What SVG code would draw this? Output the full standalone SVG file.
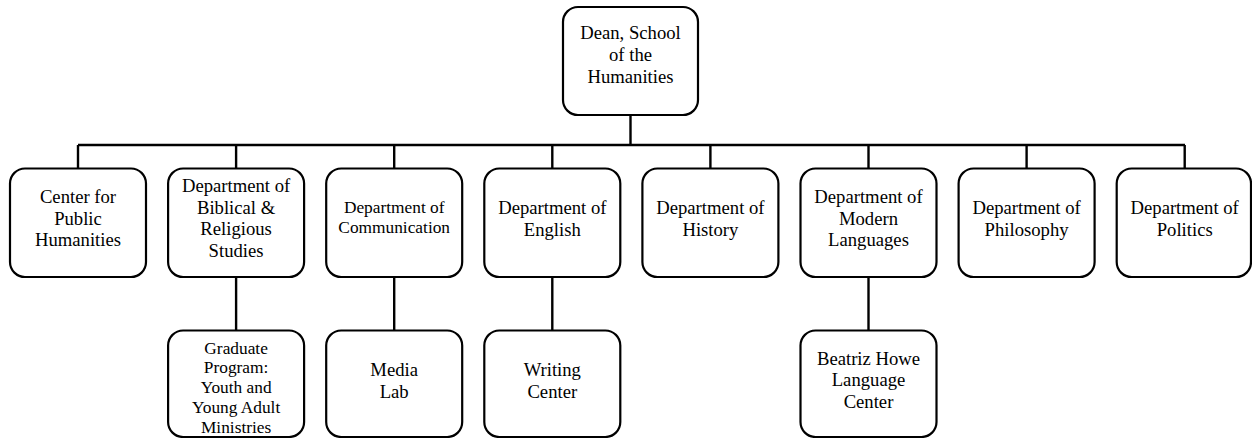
<svg xmlns="http://www.w3.org/2000/svg" width="1252" height="438" viewBox="0 0 1252 438">
<style>
.box{fill:#fff;stroke:#000;stroke-width:2.2}
text{font-family:'Liberation Serif',Tinos,'Times New Roman',Times,'DejaVu Serif',serif;font-size:18.67px;fill:#000;text-anchor:middle}
.s{font-size:17.33px}
.c{stroke:#000;stroke-width:2.4;fill:none}
</style>
<g id="connectors">
<line class="c" x1="630.5" y1="115" x2="630.5" y2="145"/>
<line class="c" x1="78" y1="145" x2="1185" y2="145"/>
<line class="c" x1="78" y1="145" x2="78" y2="168.5"/>
<line class="c" x1="236.1" y1="145" x2="236.1" y2="168.5"/>
<line class="c" x1="394.2" y1="145" x2="394.2" y2="168.5"/>
<line class="c" x1="552.3" y1="145" x2="552.3" y2="168.5"/>
<line class="c" x1="710.4" y1="145" x2="710.4" y2="168.5"/>
<line class="c" x1="868.5" y1="145" x2="868.5" y2="168.5"/>
<line class="c" x1="1026.6" y1="145" x2="1026.6" y2="168.5"/>
<line class="c" x1="1184.7" y1="145" x2="1184.7" y2="168.5"/>
<line class="c" x1="236.1" y1="277" x2="236.1" y2="330.5"/>
<line class="c" x1="394.2" y1="277" x2="394.2" y2="330.5"/>
<line class="c" x1="552.3" y1="277" x2="552.3" y2="330.5"/>
<line class="c" x1="868.5" y1="277" x2="868.5" y2="330.5"/>
</g>
<g id="dean">
<rect class="box" x="563" y="7" width="135" height="108" rx="15"/>
<text x="630.5" y="39" font-family="'Liberation Serif', serif">Dean, School</text>
<text x="630.5" y="61">of the</text>
<text x="630.5" y="83">Humanities</text>
</g>
<g id="center-public-humanities">
<rect class="box" x="10" y="168.5" width="136" height="108.5" rx="15"/>
<text x="78" y="203">Center for</text>
<text x="78" y="224.5">Public</text>
<text x="78" y="246">Humanities</text>
</g>
<g id="dept-biblical">
<rect class="box" x="168.1" y="168.5" width="136" height="108.5" rx="15"/>
<text x="236.1" y="192">Department of</text>
<text x="236.1" y="213.5">Biblical &amp;</text>
<text x="236.1" y="235">Religious</text>
<text x="236.1" y="256.5">Studies</text>
</g>
<g id="dept-communication">
<rect class="box" x="326.2" y="168.5" width="136" height="108.5" rx="15"/>
<text class="s" x="394.2" y="212.5">Department of</text>
<text class="s" x="394.2" y="232.5">Communication</text>
</g>
<g id="dept-english">
<rect class="box" x="484.3" y="168.5" width="136" height="108.5" rx="15"/>
<text x="552.3" y="214">Department of</text>
<text x="552.3" y="235.5">English</text>
</g>
<g id="dept-history">
<rect class="box" x="642.4" y="168.5" width="136" height="108.5" rx="15"/>
<text x="710.4" y="214">Department of</text>
<text x="710.4" y="235.5">History</text>
</g>
<g id="dept-modern-languages">
<rect class="box" x="800.5" y="168.5" width="136" height="108.5" rx="15"/>
<text x="868.5" y="203">Department of</text>
<text x="868.5" y="224.5">Modern</text>
<text x="868.5" y="246">Languages</text>
</g>
<g id="dept-philosophy">
<rect class="box" x="958.6" y="168.5" width="136" height="108.5" rx="15"/>
<text x="1026.6" y="214">Department of</text>
<text x="1026.6" y="235.5">Philosophy</text>
</g>
<g id="dept-politics">
<rect class="box" x="1116.7" y="168.5" width="134.3" height="108.5" rx="15"/>
<text x="1184.7" y="214">Department of</text>
<text x="1184.7" y="235.5">Politics</text>
</g>
<g id="graduate-program">
<rect class="box" x="168.1" y="330.5" width="136" height="106.5" rx="15"/>
<text class="s" x="236.1" y="353.5">Graduate</text>
<text class="s" x="236.1" y="373.3">Program:</text>
<text class="s" x="236.1" y="393.1">Youth and</text>
<text class="s" x="236.1" y="412.9">Young Adult</text>
<text class="s" x="236.1" y="432.7">Ministries</text>
</g>
<g id="media-lab">
<rect class="box" x="326.2" y="330.5" width="136" height="106.5" rx="15"/>
<text x="394.2" y="376">Media</text>
<text x="394.2" y="398">Lab</text>
</g>
<g id="writing-center">
<rect class="box" x="484.3" y="330.5" width="136" height="106.5" rx="15"/>
<text x="552.3" y="376">Writing</text>
<text x="552.3" y="398">Center</text>
</g>
<g id="language-center">
<rect class="box" x="800.5" y="330.5" width="136" height="106.5" rx="15"/>
<text x="868.5" y="364.5">Beatriz Howe</text>
<text x="868.5" y="386">Language</text>
<text x="868.5" y="407.5">Center</text>
</g>
</svg>
